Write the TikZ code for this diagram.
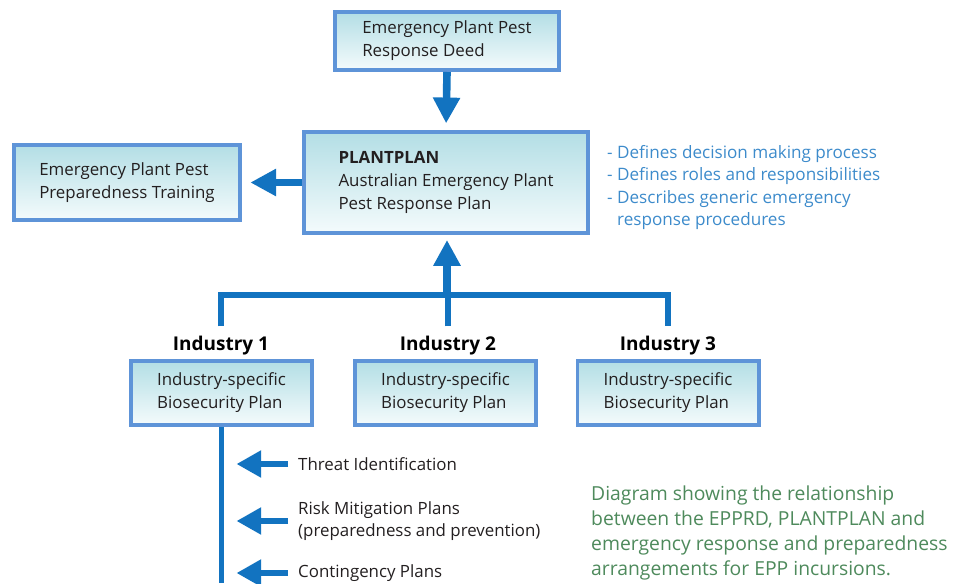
\documentclass[tikz,border=0pt]{standalone}
\usepackage{fontspec}
\setmainfont{Open Sans}
\usetikzlibrary{arrows.meta, positioning}

\definecolor{boxline}{HTML}{5E94D8}
\definecolor{boxtop}{HTML}{B3DEE5}
\definecolor{boxbot}{HTML}{F4FBFC}
\definecolor{arrowblue}{HTML}{1273C0}
\definecolor{notetext}{HTML}{3D8BCB}
\definecolor{captiongreen}{HTML}{4E8A5C}
\definecolor{bodytext}{HTML}{231F20}

\tikzset{
	planbox/.style={draw=boxline, line width=3.4pt, top color=boxtop, bottom color=boxbot,
		align=left, text=bodytext, inner sep=0pt, font=\fontsize{14.4}{19.6}\selectfont},
	industry/.style={text=black, inner sep=0pt, font=\fontsize{16.2}{18}\selectfont\bfseries},
	steptext/.style={anchor=west, align=left, text=bodytext, inner sep=0pt, font=\fontsize{14.4}{19}\selectfont},
	link/.style={draw=arrowblue, line width=4.3pt},
	bigarrow/.style={draw=arrowblue, line width=6.5pt, -{Triangle[length=22pt, width=22pt]}},
	smallarrow/.style={draw=arrowblue, line width=5pt, -{Triangle[length=21pt, width=22pt]}}
}

\begin{document}
\begin{tikzpicture}[x=0.03cm, y=-0.03cm]
	\useasboundingbox (0,0) rectangle (960,583);
	
	% boxes
	\node [planbox, minimum width=6.72cm, minimum height=1.74cm] (deed) at (447,41) {Emergency Plant Pest\\Response Deed};
	\node [planbox, minimum width=8.52cm, minimum height=3.03cm] (plantplan) at (446,182.5) {\textbf{PLANTPLAN}\\Australian Emergency Plant\\Pest Response Plan};
	\node [planbox, minimum width=6.78cm, minimum height=2.25cm] (training) at (127,182.5) {Emergency Plant Pest\\Preparedness Training};
	
	\node [planbox, minimum width=5.43cm, minimum height=1.92cm] (ind1) at (221.5,393) {Industry-specific\\Biosecurity Plan};
	\node [planbox, minimum width=5.43cm, minimum height=1.92cm] (ind2) at (445.5,393) {Industry-specific\\Biosecurity Plan};
	\node [planbox, minimum width=5.43cm, minimum height=1.92cm] (ind3) at (668,393) {Industry-specific\\Biosecurity Plan};
	
	\node [industry] (lab1) at (221,346) {Industry 1};
	\node [industry] (lab2) at (448,346) {Industry 2};
	\node [industry] (lab3) at (668,346) {Industry 3};
	
	% notes
	\node [anchor=west, align=left, inner sep=0pt, text=notetext, font=\fontsize{14.6}{19}\selectfont] (notes) at (607,187.5)
		{- Defines decision making process\\- Defines roles and responsibilities\\- Describes generic emergency\\\phantom{- }response procedures};
	\node [anchor=west, align=left, inner sep=0pt, text=captiongreen, font=\fontsize{16.5}{21.5}\selectfont] (caption) at (591,533)
		{Diagram showing the relationship\\between the EPPRD, PLANTPLAN and\\emergency response and preparedness\\arrangements for EPP incursions.};
	
	% steps under industry 1
	\node [steptext] (threat) at (298,464) {Threat Identification};
	\node [steptext] (risk) at (298,521) {Risk Mitigation Plans\\(preparedness and prevention)};
	\node [steptext] (contingency) at (298,573) {Contingency Plans};
	
	% connectors
	\coordinate (bar) at (447,295);
	\coordinate (stemend) at (222,583);
	
	\draw [bigarrow, shorten >=0.2cm] (deed.south) -- (plantplan.north);
	\draw [bigarrow, shorten >=0.25cm] (plantplan.west) -- (plantplan.west -| training.east);
	\draw [bigarrow, shorten >=0.15cm] (bar) -- (bar |- plantplan.south);
	
	\draw [link, shorten <=0.3cm, shorten >=0.3cm] (lab1.north) |- (bar) -| (lab3.north);
	\draw [link, shorten <=0.3cm] (lab2.north) -- (lab2.north |- bar);
	\draw [link] (ind1.south) -- (ind1.south |- stemend);
	
	\draw [smallarrow, shorten <=0.3cm, shorten >=0.45cm] (threat.west) -- (threat.west -| ind1.south);
	\draw [smallarrow, shorten <=0.3cm, shorten >=0.45cm] (risk.west) -- (risk.west -| ind1.south);
	\draw [smallarrow, shorten <=0.3cm, shorten >=0.45cm] (contingency.west) -- (contingency.west -| ind1.south);
\end{tikzpicture}
\end{document}
